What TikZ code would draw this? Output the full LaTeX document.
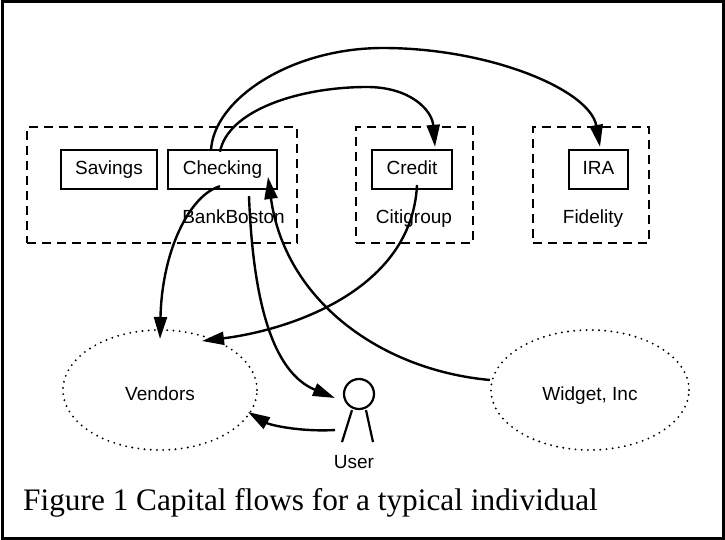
\documentclass[tikz,border=0pt]{standalone}
\usepackage{fontspec}
\setmainfont{Liberation Serif}
\newfontfamily\arialfont{Liberation Sans}
\usetikzlibrary{arrows.meta,shapes.geometric}
\begin{document}
\begin{tikzpicture}[x=1pt,y=-1pt,
  lbl/.style={font=\arialfont\fontsize{19}{22}\selectfont},
  acct/.style={draw,line width=2.4pt,rectangle,minimum height=39pt,inner sep=0pt,text height=14pt,text depth=4pt,lbl},
  bank/.style={draw,line width=1.7pt,dash pattern=on 9pt off 6pt,rectangle,minimum height=116pt,inner sep=0pt},
  party/.style={ellipse,draw,line width=2.1pt,line cap=round,dash pattern=on 0pt off 6.2pt,minimum height=120pt,inner sep=0pt,text height=20pt,text depth=0pt,lbl},
  flow/.style={line width=2.4pt,-{Triangle[length=22pt,width=13pt]}},
  stick/.style={line width=2.2pt},
]
\useasboundingbox (0,0) rectangle (725,540);
\draw[line width=3pt] (2,2) rectangle (723,538);

% institutions
\node[bank,minimum width=270pt] (bb) at (162,185) {};
\node[bank,minimum width=117pt] (citi) at (414.5,185) {};
\node[bank,minimum width=116pt] (fid) at (591,185) {};

% accounts
\node[acct,minimum width=96pt] (savings) at (109,169.5) {Savings};
\node[acct,minimum width=109pt] (checking) at (222.5,169.5) {Checking};
\node[acct,minimum width=80pt] (credit) at (412,169.5) {Credit};
\node[acct,minimum width=59pt] (ira) at (598.5,169.5) {IRA};

% institution labels
\node[lbl,anchor=base] (bbl) at (233.5,223) {BankBoston};
\node[lbl,anchor=base] (citil) at (414,223) {Citigroup};
\node[lbl,anchor=base] (fidl) at (593,223) {Fidelity};

% parties
\node[party,minimum width=194pt] (vendors) at (160,390) {Vendors};
\node[party,minimum width=198pt] (widget) at (590,390) {Widget, Inc};

% user
\node[circle,draw,stick,minimum size=30pt,inner sep=0pt] (head) at (359,394) {};
\draw[stick] ([xshift=-7pt]head.south) -- ++(-10,32);
\draw[stick] ([xshift=7pt]head.south) -- ++(7,32);
\node[lbl,anchor=base] (userl) at (354,468) {User};

% caption
\node[anchor=base west,font=\fontsize{31.3}{36}\selectfont,inner sep=0pt] (cap) at (23,510) {Figure 1 Capital flows for a typical individual};

% flows
\draw[flow] ([xshift=-11.5pt,yshift=-2pt]checking.north) .. controls (213,100) and (290,48) .. (383,48)
  .. controls (490,48) and (590,90) .. ([xshift=1.5pt,yshift=2pt]ira.north);
\draw[flow] ([xshift=-2.5pt,yshift=-3pt]checking.north) .. controls (228,110) and (300,87) .. (367,87)
  .. controls (410,87) and (432,110) .. ([xshift=23pt,yshift=2pt]credit.north);
\draw[flow] ([xshift=-2.5pt,yshift=4pt]checking.south) .. controls (190,195) and (162,250) .. ([yshift=-10pt]vendors.north);
\draw[flow] ([xshift=26.5pt,yshift=-6pt]checking.south) .. controls (253,300) and (272,372) .. ([xshift=-8pt,yshift=-4pt]head.west);
\draw[flow] ([yshift=10pt]widget.west) .. controls (380,370) and (285,300) .. ([xshift=45.5pt,yshift=-7.5pt]checking.center);
\draw[flow] ([xshift=5pt,yshift=-15.5pt]credit.center) .. controls (412,290) and (290,330) .. ([xshift=42pt,yshift=49pt]vendors.center);
\draw[flow] ([xshift=-24pt,yshift=-36pt]head.center) .. controls (300,432) and (270,425) .. ([xshift=88pt,yshift=-22pt]vendors.center);
\end{tikzpicture}
\end{document}
